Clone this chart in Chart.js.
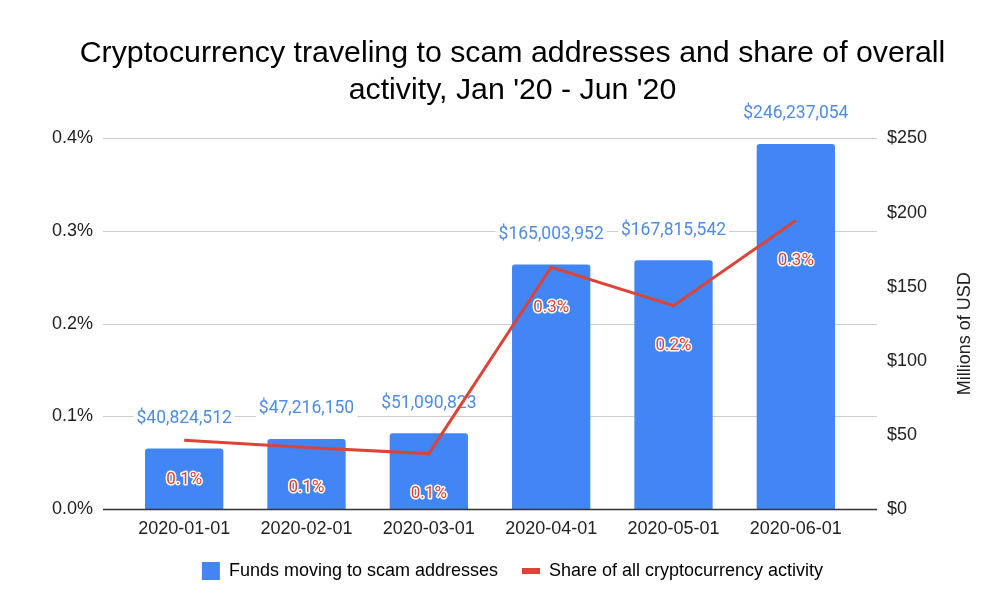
<!DOCTYPE html>
<html>
<head>
<meta charset="utf-8">
<script src="https://cdn.jsdelivr.net/npm/chart.js@4.4.1/dist/chart.umd.min.js"></script>
<style>
  html, body { margin: 0; padding: 0; background: #fff; }
  #wrap { width: 995px; height: 604px; }
</style>
</head>
<body>
<div id="wrap"><canvas id="scamChart" width="995" height="604"></canvas></div>
<script>
// data
const months = ["2020-01-01", "2020-02-01", "2020-03-01", "2020-04-01", "2020-05-01", "2020-06-01"];
const fundsMillions = [40.824512, 47.21615, 51.090823, 165.003952, 167.815542, 246.237054];
const sharePct = [0.0743, 0.0663, 0.0598, 0.2609, 0.2195, 0.3114];
const shareTicks = [0, 0.1, 0.2, 0.3, 0.4];
const usdTicks = [0, 50, 100, 150, 200, 250];

const blue = "#4285f4";
const red = "#db4437";
const textDark = "#222222";
const sansFont = "'Liberation Sans', Arial, sans-serif";
const labelFont = "Roboto, 'Liberation Sans', sans-serif";

Chart.defaults.font.family = sansFont;
Chart.defaults.color = textDark;

const fmtUsd = v => "$" + Math.round(v * 1e6).toLocaleString("en-US");
const fmtPct = v => v.toFixed(1) + "%";

// gridlines stick out 20px past the plot on both sides, like the sheets chart
const chartDecor = {
  id: "chartDecor",
  beforeDatasetsDraw(chart) {
    const { ctx, chartArea, scales } = chart;
    ctx.save();
    ctx.lineWidth = 1;
    ctx.strokeStyle = "#cccccc";
    scales.y.ticks.forEach(t => {
      if (t.value === 0) return;
      const y = Math.round(scales.y.getPixelForValue(t.value)) + 0.5;
      ctx.beginPath();
      ctx.moveTo(chartArea.left - 20, y);
      ctx.lineTo(chartArea.right + 20, y);
      ctx.stroke();
    });
    ctx.restore();
  },
  afterDatasetDraw(chart, args) {
    if (args.index !== 0) return;
    // bar value labels, white box behind so gridlines break around them
    const { ctx } = chart;
    ctx.save();
    ctx.font = "17.5px " + labelFont;
    ctx.textAlign = "center";
    ctx.textBaseline = "middle";
    args.meta.data.forEach((bar, i) => {
      const txt = fmtUsd(fundsMillions[i]);
      const w = ctx.measureText(txt).width;
      const y = bar.y - 30;
      ctx.fillStyle = "#ffffff";
      ctx.fillRect(bar.x - w / 2 - 3, y - 10, w + 6, 20);
      ctx.fillStyle = "#4f8ce6";
      ctx.fillText(txt, bar.x, y);
    });
    ctx.restore();
  },
  afterDatasetsDraw(chart) {
    const { ctx, chartArea, scales } = chart;
    ctx.save();
    // baseline
    const y0 = Math.round(scales.y.getPixelForValue(0)) + 0.5;
    ctx.strokeStyle = "#333333";
    ctx.lineWidth = 1.5;
    ctx.beginPath();
    ctx.moveTo(chartArea.left - 20, y0);
    ctx.lineTo(chartArea.right + 20, y0);
    ctx.stroke();

    // share labels under the line points
    ctx.font = "17px " + labelFont;
    ctx.textAlign = "center";
    ctx.textBaseline = "middle";
    ctx.lineJoin = "round";
    chart.getDatasetMeta(1).data.forEach((pt, i) => {
      const txt = fmtPct(sharePct[i]);
      ctx.lineWidth = 3;
      ctx.strokeStyle = "#ffffff";
      ctx.strokeText(txt, pt.x, pt.y + 40);
      ctx.fillStyle = red;
      ctx.fillText(txt, pt.x, pt.y + 40);
    });

    // right axis title reads bottom-to-top
    ctx.font = "18px " + sansFont;
    ctx.fillStyle = textDark;
    ctx.translate(965, (chartArea.top + chartArea.bottom) / 2 + 10);
    ctx.rotate(-Math.PI / 2);
    ctx.fillText("Millions of USD", 0, 0);
    ctx.restore();
  }
};

new Chart(document.getElementById("scamChart"), {
  type: "bar",
  data: {
    labels: months,
    datasets: [
      {
        label: "Funds moving to scam addresses",
        data: fundsMillions,
        yAxisID: "y1",
        backgroundColor: blue,
        borderRadius: 3,
        borderSkipped: "bottom",
        categoryPercentage: 1,
        barPercentage: 0.64,
        order: 1
      },
      {
        type: "line",
        label: "Share of all cryptocurrency activity",
        data: sharePct,
        yAxisID: "y",
        borderColor: red,
        backgroundColor: red,
        borderWidth: 3,
        pointRadius: 0,
        tension: 0,
        order: 0
      }
    ]
  },
  options: {
    responsive: false,
    animation: false,
    layout: { padding: { left: 30, right: 0, top: 0, bottom: 14 } },
    plugins: {
      title: {
        display: true,
        text: ["Cryptocurrency traveling to scam addresses and share of overall", "activity, Jan '20 - Jun '20"],
        color: "#000000",
        font: { size: 30.3, weight: "normal", family: sansFont, lineHeight: 1.22 },
        padding: { top: 35, bottom: 29.5 }
      },
      legend: {
        position: "bottom",
        labels: {
          usePointStyle: true,
          pointStyleWidth: 18,
          boxHeight: 18,
          padding: 24,
          color: textDark,
          font: { size: 18 },
          generateLabels: () => [
            { text: "Funds moving to scam addresses", fillStyle: blue, strokeStyle: blue, lineWidth: 0, pointStyle: "rect", datasetIndex: 0 },
            { text: "Share of all cryptocurrency activity", fillStyle: red, strokeStyle: red, lineWidth: 6, pointStyle: "line", datasetIndex: 1 }
          ]
        }
      },
      tooltip: { enabled: false }
    },
    scales: {
      x: {
        grid: { display: false, drawTicks: false },
        border: { display: false },
        ticks: { padding: 9, color: textDark, font: { size: 18 }, maxRotation: 0 },
        afterFit: s => { s.height = 29; }
      },
      y: {
        position: "left",
        min: 0,
        max: 0.4,
        afterBuildTicks: s => { s.ticks = shareTicks.map(v => ({ value: v })); },
        grid: { display: false, drawTicks: false },
        border: { display: false },
        ticks: { padding: 30, color: textDark, font: { size: 18 }, callback: v => fmtPct(v) },
        afterFit: s => { s.width = 93; }
      },
      y1: {
        position: "right",
        min: 0,
        max: 250,
        afterBuildTicks: s => { s.ticks = usdTicks.map(v => ({ value: v })); },
        grid: { display: false, drawTicks: false },
        border: { display: false },
        ticks: { padding: 30, color: textDark, font: { size: 18 }, callback: v => "$" + v },
        afterFit: s => { s.width = 138; }
      }
    }
  },
  plugins: [chartDecor]
});
</script>
</body>
</html>
